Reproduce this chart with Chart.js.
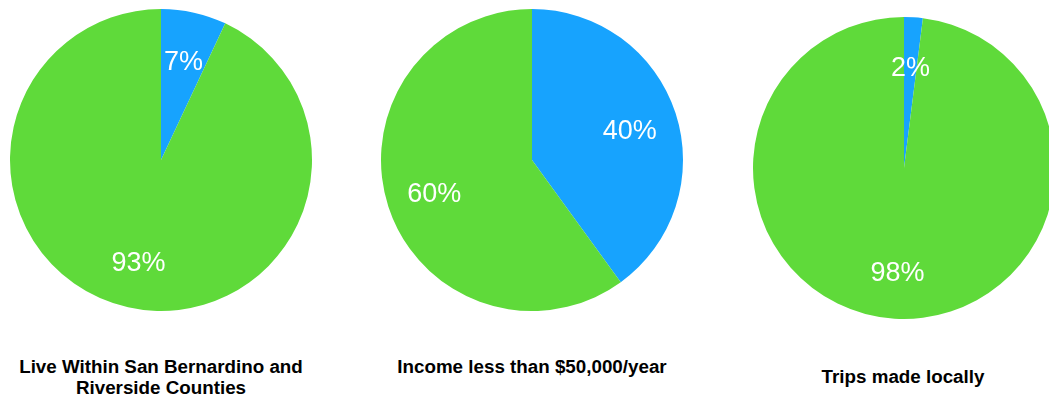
<!DOCTYPE html>
<html>
<head>
<meta charset="utf-8">
<script src="https://cdn.jsdelivr.net/npm/chart.js@4/dist/chart.umd.min.js"></script>
<style>
    html, body { margin: 0; padding: 0; background: #fff; width: 1049px; height: 396px; overflow: hidden; position: relative; }
    .pie { position: absolute; width: 320px; height: 320px; }
    .caption { position: absolute; width: 340px; text-align: center; font-family: "Liberation Sans", Arial, sans-serif; font-weight: bold; font-size: 18.8px; line-height: 20.5px; color: #000; }
</style>
</head>
<body>
<canvas id="pie0" class="pie" width="320" height="320" style="left:1px; top:0px;"></canvas>
<canvas id="pie1" class="pie" width="320" height="320" style="left:372px; top:0px;"></canvas>
<canvas id="pie2" class="pie" width="320" height="320" style="left:744px; top:8px;"></canvas>
<div class="caption" style="left:-9px; top:357px;">Live Within San Bernardino and<br>Riverside Counties</div>
<div class="caption" style="left:362px; top:357px;">Income less than $50,000/year</div>
<div class="caption" style="left:733px; top:367px;">Trips made locally</div>
<script>
"use strict";

const captions = ["Live Within San Bernardino and Riverside Counties", "Income less than $50,000/year", "Trips made locally"];
const sliceNames = ["Yes", "No"];
const liveLocal = [7, 93];
const lowIncome = [40, 60];
const localTrips = [2, 98];
const sliceColors = ["#17a3fe", "#5fda3a"];

const percentLabels = {
    id: "percentLabels",
    afterDatasetsDraw(chart) {
        const ctx = chart.ctx;
        const values = chart.data.datasets[0].data;
        ctx.save();
        ctx.fillStyle = "#fff";
        ctx.font = '27px "Liberation Sans", Arial, sans-serif';
        ctx.textAlign = "center";
        ctx.textBaseline = "middle";
        chart.getDatasetMeta(0).data.forEach((arc, i) => {
            const p = arc.getProps(["x", "y", "startAngle", "endAngle", "outerRadius"], true);
            const mid = (p.startAngle + p.endAngle) / 2;
            const r = p.outerRadius * 0.68;
            // nudge down a little, the glyphs sit high on a middle baseline
            ctx.fillText(values[i] + "%", p.x + Math.cos(mid) * r, p.y + Math.sin(mid) * r + 3);
        });
        ctx.restore();
    }
};

function drawPie(canvasId, values, title) {
    const ctx = document.getElementById(canvasId).getContext("2d");
    return new Chart(ctx, {
        type: "pie",
        data: {
            labels: sliceNames,
            datasets: [{
                data: values,
                label: title,
                backgroundColor: sliceColors,
                borderWidth: 0
            }]
        },
        options: {
            responsive: false,
            animation: false,
            layout: { padding: 9 },
            plugins: {
                legend: { display: false },
                tooltip: { enabled: false },
                title: { display: false }
            }
        },
        plugins: [percentLabels]
    });
}

drawPie("pie0", liveLocal, captions[0]);
drawPie("pie1", lowIncome, captions[1]);
drawPie("pie2", localTrips, captions[2]);
</script>
</body>
</html>
